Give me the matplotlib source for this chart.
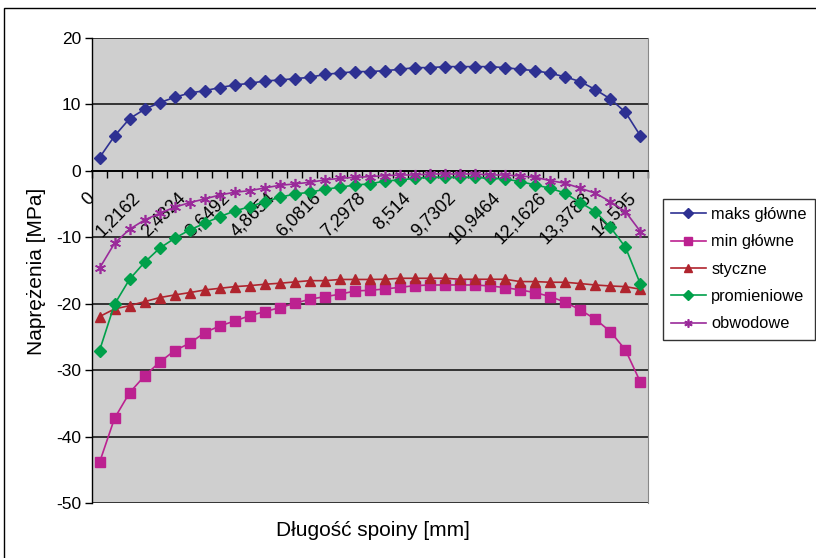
import matplotlib
matplotlib.use("Agg")
import matplotlib.pyplot as plt
from matplotlib.patches import Rectangle
from matplotlib.transforms import ScaledTranslation

plt.rcParams['font.family'] = ['Liberation Sans', 'DejaVu Sans']

x_labels = ["0", "1,2162", "2,4324", "3,6492", "4,8654", "6,0816", "7,2978",
            "8,514", "9,7302", "10,9464", "12,1626", "13,3788", "14,595"]

maks_glowne = [1.99, 5.25, 7.86, 9.27, 10.27, 11.07, 11.72, 12.07, 12.53, 12.93,
               13.18, 13.53, 13.68, 13.88, 14.08, 14.53, 14.73, 14.93, 14.95, 15.08,
               15.29, 15.54, 15.54, 15.69, 15.69, 15.69, 15.69, 15.54, 15.29, 15.08,
               14.69, 14.14, 13.43, 12.23, 10.82, 8.82, 5.25]
min_glowne = [-43.9, -37.25, -33.4, -30.87, -28.8, -27.06, -25.95, -24.35, -23.35, -22.6,
              -21.8, -21.19, -20.59, -19.93, -19.33, -18.93, -18.58, -18.08, -17.98, -17.78,
              -17.53, -17.28, -17.18, -17.18, -17.18, -17.18, -17.33, -17.58, -17.93, -18.33,
              -18.93, -19.78, -20.94, -22.34, -24.2, -26.96, -31.83]
styczne = [-21.94, -20.79, -20.29, -19.69, -19.08, -18.68, -18.33, -17.93, -17.68, -17.43,
           -17.28, -17.07, -16.92, -16.72, -16.53, -16.53, -16.35, -16.35, -16.35, -16.32,
           -16.17, -16.17, -16.17, -16.17, -16.32, -16.32, -16.32, -16.32, -16.67, -16.67,
           -16.77, -16.77, -16.97, -17.18, -17.33, -17.43, -17.82]
promieniowe = [-27.06, -20.08, -16.32, -13.76, -11.65, -10.15, -8.9, -7.89, -6.89, -6.04,
               -5.39, -4.64, -3.98, -3.48, -3.22, -2.77, -2.47, -2.12, -1.97, -1.52,
               -1.37, -1.12, -0.97, -0.97, -0.97, -0.97, -1.12, -1.22, -1.62, -2.12,
               -2.62, -3.37, -4.78, -6.14, -8.5, -11.5, -17.07]
obwodowe = [-14.66, -10.9, -8.79, -7.39, -6.39, -5.48, -4.78, -4.23, -3.63, -3.22,
            -2.98, -2.57, -2.17, -1.97, -1.72, -1.37, -1.12, -0.97, -0.87, -0.72,
            -0.62, -0.62, -0.47, -0.47, -0.47, -0.47, -0.62, -0.62, -0.77, -0.97,
            -1.47, -1.87, -2.62, -3.37, -4.64, -6.14, -9.15]

series = [
    ("maks główne", maks_glowne, "#2E3192", "D", 6.5),
    ("min główne", min_glowne, "#BC2190", "s", 7),
    ("styczne", styczne, "#B0242E", "^", 7.5),
    ("promieniowe", promieniowe, "#00A04A", "D", 6.5),
    ("obwodowe", obwodowe, "#9A2A9A", (6, 2, 0), 8),
]

n = len(maks_glowne)
xs = list(range(n))

fig = plt.figure(figsize=(8.16, 5.58), dpi=100)
fig.patch.set_facecolor("white")
# chart border
fig.add_artist(Rectangle((4/816, -0.01), 1.0, 1 - 8/558 + 0.01, transform=fig.transFigure,
                         fill=False, edgecolor="black", linewidth=1.0))

ax = fig.add_axes([92/816, 1 - 503/558, (648 - 92)/816, (503 - 38)/558])
ax.set_facecolor("#CFCFCF")

for v in range(-50, 21, 10):
    if v != 0:
        ax.axhline(v, color="#333333", linewidth=1.4, zorder=1)

for name, vals, col, mk, ms in series:
    kw = dict(color=col, marker=mk, markersize=ms, linewidth=1.2, label=name, zorder=3,
              markerfacecolor=col, markeredgecolor=col)
    if mk == (6, 2, 0):
        kw["markeredgewidth"] = 1.2
    ax.plot(xs, vals, **kw)

ax.set_xlim(-0.5, n - 0.5)
ax.set_ylim(-50, 20)
ax.set_yticks(range(-50, 21, 10))
ax.set_yticklabels([str(v) for v in range(-50, 21, 10)], fontsize=12.5)
ax.tick_params(axis="y", direction="out", length=5, width=1, pad=3, colors="black")

ax.spines["bottom"].set_position(("data", 0))
ax.spines["bottom"].set_color("black")
ax.spines["bottom"].set_linewidth(1.4)
ax.spines["left"].set_color("black")
ax.spines["left"].set_linewidth(1.0)
ax.spines["top"].set_visible(False)
ax.spines["right"].set_color("#888888")

label_pos = list(range(0, n, 3))
ax.set_xticks(label_pos)
ax.set_xticklabels(x_labels, fontsize=13, rotation=45, ha="right", va="top",
                   rotation_mode="anchor")
ax.tick_params(axis="x", which="major", length=0, pad=6)
ax.set_xticks([i - 0.5 for i in range(n + 1)], minor=True)
ax.tick_params(axis="x", which="minor", direction="out", length=5, width=1, color="black")
offset = ScaledTranslation(-13/100, -10/100, fig.dpi_scale_trans)
for lab in ax.get_xticklabels():
    lab.set_transform(lab.get_transform() + offset)

fig.text(37/816, 1 - 271/558, "Naprężenia [MPa]", rotation=90, ha="center", va="center",
         fontsize=15)
fig.text(373/816, 1 - 530/558, "Długość spoiny [mm]", ha="center", va="center", fontsize=15)

leg = fig.legend(loc="upper left", bbox_to_anchor=(663/816, 1 - 199/558), fontsize=11.8,
                 frameon=True, fancybox=False, edgecolor="black", handlelength=2.1,
                 labelspacing=0.75, borderpad=0.5, handletextpad=0.35, markerscale=0.75,
                 borderaxespad=0)
leg.get_frame().set_linewidth(1.0)

fig.savefig("out.png", dpi=100)
